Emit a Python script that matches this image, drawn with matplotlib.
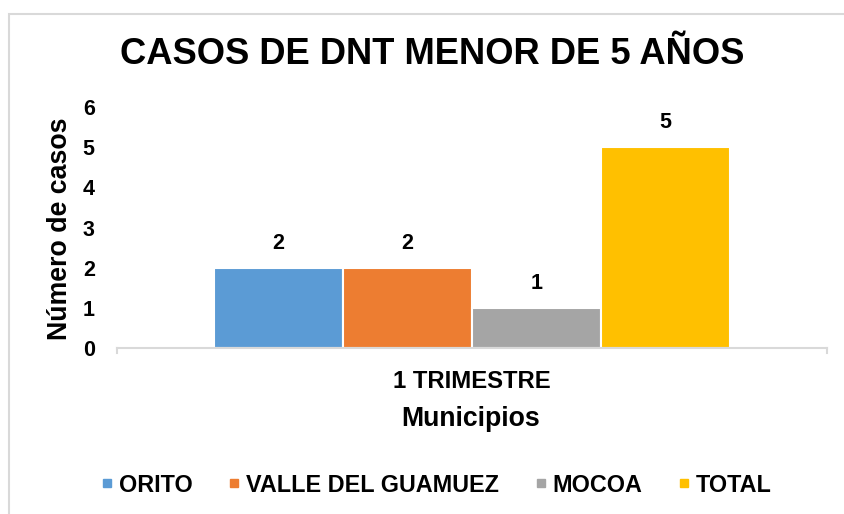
import matplotlib
matplotlib.use("Agg")
import matplotlib.pyplot as plt
from matplotlib.patches import Rectangle
from matplotlib.lines import Line2D

categories = ["1 TRIMESTRE"]
series_names = ["ORITO", "VALLE DEL GUAMUEZ", "MOCOA", "TOTAL"]
series_values = [[2], [2], [1], [5]]
colors = ["#5B9BD5", "#ED7D31", "#A5A5A5", "#FFC000"]
yticks = [0, 1, 2, 3, 4, 5, 6]

FONT = "Liberation Sans"

W, H = 844, 514
fig = plt.figure(figsize=(W / 100, H / 100), dpi=100)
fig.patch.set_facecolor("white")

# outer chart border
fig.add_artist(Rectangle((9 / W, -0.1), 1.2, (H - 14) / H + 0.1, transform=fig.transFigure,
                         fill=False, edgecolor="#D9D9D9", linewidth=1.5))

ax = fig.add_axes([117 / W, (H - 348) / H, (827 - 117) / W, (348 - 107) / H])
slot = 0.1817
n = len(series_names)
for i, (name, vals, c) in enumerate(zip(series_names, series_values, colors)):
    xs = [j + (i - (n - 1) / 2) * slot for j in range(len(categories))]
    ax.bar(xs, vals, width=slot, color=c, edgecolor="white", linewidth=1.5, label=name)
    for x, v in zip(xs, vals):
        ax.annotate(str(v), (x, v), xytext=(0, 17.5), textcoords="offset points", ha="center",
                    va="center", fontsize=15.5, fontweight="bold", family=FONT)

ax.set_xlim(-0.5, 0.5)
ax.set_ylim(0, 6)
ax.set_yticks(yticks)
ax.set_yticklabels([str(t) for t in yticks], fontsize=15.5, fontweight="bold", family=FONT)
ax.set_xticks(range(len(categories)))
ax.set_xticklabels(categories, fontsize=17.2, fontweight="bold", family=FONT)
ax.tick_params(axis="y", length=0, pad=16)
ax.tick_params(axis="x", length=0, pad=16)
for s in ["top", "right", "left"]:
    ax.spines[s].set_visible(False)
ax.spines["bottom"].set_color("#D9D9D9")
ax.spines["bottom"].set_linewidth(1.5)
for xe in (-0.5, 0.5):
    ax.plot([xe, xe], [0, -0.12], color="#D9D9D9", lw=1.5, clip_on=False)

fig.text(432 / W, 1 - 55 / H, "CASOS DE DNT MENOR DE 5 AÑOS", ha="center", va="center",
         fontsize=26.2, fontweight="bold", family=FONT)
fig.text(471 / W, 1 - 419 / H, "Municipios", ha="center", va="center",
         fontsize=19.2, fontweight="bold", family=FONT)
fig.text(60 / W, 1 - 229 / H, "Número de casos", ha="center", va="center", rotation=90,
         fontsize=19.3, fontweight="bold", family=FONT)

handles = [Line2D([], [], marker="s", linestyle="none", markersize=6, markerfacecolor=c,
                  markeredgecolor=c) for c in colors]
fig.legend(handles, series_names, loc="center", bbox_to_anchor=(436 / W, 1 - 485 / H), ncol=4,
           frameon=False, prop={"family": FONT, "weight": "bold", "size": 16.8},
           handletextpad=0.2, columnspacing=1.5, handlelength=0.6, borderpad=0, borderaxespad=0)

fig.savefig("out.png", dpi=100)
